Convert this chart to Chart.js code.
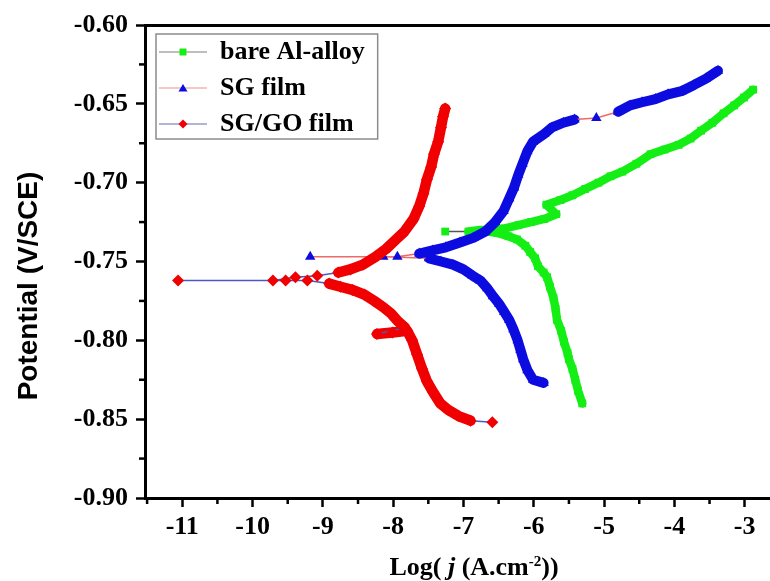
<!DOCTYPE html>
<html>
<head>
<meta charset="utf-8">
<title>Tafel plot</title>
<script src="https://cdn.jsdelivr.net/npm/chart.js@4.4.0/dist/chart.umd.min.js"></script>
<style>
    html, body { margin: 0; padding: 0; background: #fff; }
    #wrap { width: 770px; height: 581px; position: relative; }
</style>
</head>
<body>
<div id="wrap"><canvas id="tafel"></canvas></div>
<script>
(function () {
    "use strict";

    const seriesLabels = ["bare Al-alloy", "SG film", "SG/GO film"];

    // each sweep runs cathodic end -> Ecorr -> anodic end
    const bareLogJ = [-5.31, -5.37, -5.41, -5.45, -5.50, -5.52, -5.57, -5.61, -5.67, -5.69, -5.72, -5.77,
        -5.81, -5.86, -5.94, -5.98, -6.05, -6.12, -6.24, -6.36, -6.51, -6.66, -7.26, -6.93, -6.76,
        -6.59, -6.41, -6.22, -6.04, -5.85, -5.68, -5.82, -5.62, -5.45, -5.27, -5.08, -4.91, -4.74,
        -4.54, -4.34, -4.14, -3.94, -3.77, -3.62, -3.46, -3.30, -3.15, -3.01, -2.88];
    const bareE = [-0.840, -0.832, -0.825, -0.818, -0.812, -0.808, -0.801, -0.794, -0.787, -0.780, -0.773, -0.766,
        -0.760, -0.757, -0.753, -0.748, -0.744, -0.740, -0.736, -0.734, -0.732, -0.731, -0.731, -0.731, -0.730,
        -0.730, -0.729, -0.727, -0.725, -0.723, -0.720, -0.714, -0.711, -0.708, -0.704, -0.700, -0.696, -0.693,
        -0.688, -0.682, -0.679, -0.676, -0.672, -0.667, -0.662, -0.656, -0.651, -0.646, -0.641];

    const sgLogJ = [-5.86, -6.01, -6.09, -6.15, -6.19, -6.23, -6.29, -6.35, -6.42, -6.49, -6.58, -6.66,
        -6.76, -6.87, -7.00, -7.15, -7.32, -7.49, -8.14, -9.18, -7.94, -7.63, -7.44, -7.25, -7.05,
        -6.86, -6.69, -6.55, -6.43, -6.35, -6.28, -6.22, -6.16, -6.09, -6.01, -5.85, -5.74, -5.58,
        -5.42, -5.11, -4.80, -4.63, -4.46, -4.27, -4.09, -3.90, -3.72, -3.55, -3.38];
    const sgE = [-0.827, -0.825, -0.819, -0.812, -0.806, -0.800, -0.793, -0.787, -0.782, -0.777, -0.772, -0.767,
        -0.762, -0.759, -0.755, -0.752, -0.750, -0.748, -0.747, -0.747, -0.747, -0.745, -0.743, -0.741, -0.738,
        -0.735, -0.731, -0.725, -0.718, -0.710, -0.703, -0.695, -0.688, -0.680, -0.674, -0.669, -0.665, -0.662,
        -0.660, -0.659, -0.655, -0.651, -0.649, -0.647, -0.644, -0.642, -0.638, -0.634, -0.629];

    const sgGoLogJ = [-6.59, -6.90, -7.07, -7.22, -7.33, -7.43, -7.52, -7.59, -7.66, -7.73, -7.80, -8.01,
        -8.23, -7.83, -7.93, -8.03, -8.14, -8.27, -8.41, -8.58, -8.75, -8.91, -9.22, -9.53, -11.06,
        -9.71, -9.39, -9.08, -8.78, -8.61, -8.43, -8.25, -8.10, -7.96, -7.84, -7.71, -7.63, -7.57,
        -7.52, -7.46, -7.42, -7.36, -7.32, -7.29, -7.26];
    const sgGoE = [-0.852, -0.851, -0.848, -0.844, -0.840, -0.833, -0.826, -0.818, -0.809, -0.800, -0.794, -0.795,
        -0.796, -0.792, -0.788, -0.783, -0.779, -0.775, -0.771, -0.768, -0.766, -0.764, -0.762, -0.762, -0.762,
        -0.762, -0.760, -0.759, -0.757, -0.755, -0.752, -0.747, -0.742, -0.736, -0.731, -0.723, -0.715, -0.707,
        -0.698, -0.690, -0.682, -0.674, -0.665, -0.658, -0.653];

    const xMin = -11.53, xMax = -2.64;
    const yMin = -0.90, yMax = -0.60;

    const serif = "'Liberation Serif', 'Times New Roman', serif";
    const tickFont = { family: serif, size: 26, weight: "bold" };

    const styles = [
        { color: "#14ee14", thin: "#555555", legendLine: "#a8a8a8", shape: "rect", band: 8.5, radius: 5.5, order: 2 },
        { color: "#0c0ce0", thin: "#ee6a6a", legendLine: "#f2b4b4", shape: "triangle", band: 10, radius: 6, order: 1 },
        { color: "#f00000", thin: "#4a58c8", legendLine: "#949cc4", shape: "rectRot", band: 10.5, radius: 6, order: 0 }
    ];
    const series = [
        { logJ: bareLogJ, e: bareE },
        { logJ: sgLogJ, e: sgE },
        { logJ: sgGoLogJ, e: sgGoE }
    ];

    // long jumps between sparse points get the thin connector, dense runs look like a band of markers
    const isGap = c => Math.hypot(c.p1.x - c.p0.x, c.p1.y - c.p0.y) > 20;

    function makeIcon(st) {
        const c = document.createElement("canvas");
        c.width = 52;
        c.height = 14;
        const g = c.getContext("2d");
        g.strokeStyle = st.legendLine;
        g.lineWidth = 1.5;
        g.beginPath();
        g.moveTo(4, 7);
        g.lineTo(52, 7);
        g.stroke();
        g.fillStyle = st.color;
        g.beginPath();
        if (st.shape === "rect") {
            g.rect(24.5, 3.5, 7, 7);
        } else if (st.shape === "triangle") {
            g.moveTo(28, 3); g.lineTo(32.5, 10.5); g.lineTo(23.5, 10.5); g.closePath();
        } else {
            g.moveTo(28, 2.5); g.lineTo(32.5, 7); g.lineTo(28, 11.5); g.lineTo(23.5, 7); g.closePath();
        }
        g.fill();
        return c;
    }
    const icons = styles.map(makeIcon);

    const datasets = series.map((s, i) => {
        const st = styles[i];
        return {
            label: seriesLabels[i],
            data: s.logJ.map((x, k) => ({ x: x, y: s.e[k] })),
            showLine: true,
            order: st.order,
            borderColor: st.color,
            borderWidth: st.band,
            borderJoinStyle: "round",
            borderCapStyle: "round",
            pointStyle: st.shape,
            pointRadius: st.radius,
            pointBackgroundColor: st.color,
            pointBorderColor: st.color,
            pointBorderWidth: 0,
            segment: {
                borderColor: c => isGap(c) ? st.thin : st.color,
                borderWidth: c => isGap(c) ? 1.5 : st.band
            }
        };
    });

    const axisGrid = { drawOnChartArea: false, tickLength: 9, tickWidth: 2.5, tickColor: "#000" };
    const axisBorder = { color: "#000", width: 3 };

    const decorations = {
        id: "decorations",
        afterDraw(chart) {
            const ctx = chart.ctx;
            const area = chart.chartArea;
            ctx.save();
            ctx.strokeStyle = "#000";
            ctx.lineWidth = 2.5;

            // minor ticks halfway between the labelled ones
            const xs = chart.scales.x, ys = chart.scales.y;
            [[xs, true], [ys, false]].forEach(([sc, horiz]) => {
                const vals = sc.ticks.map(t => t.value);
                const step = vals[1] - vals[0];
                const mids = [vals[0] - step / 2].concat(vals.map(v => v + step / 2));
                mids.forEach(v => {
                    if (v < sc.min - 1e-9 || v > sc.max + 1e-9) return;
                    const p = sc.getPixelForValue(v);
                    ctx.beginPath();
                    if (horiz) { ctx.moveTo(p, area.bottom); ctx.lineTo(p, area.bottom + 6); }
                    else { ctx.moveTo(area.left, p); ctx.lineTo(area.left - 6, p); }
                    ctx.stroke();
                });
            });

            // frame round the legend
            const hb = chart.legend.legendHitBoxes;
            if (hb && hb.length) {
                const L = Math.min(...hb.map(b => b.left));
                const T = Math.min(...hb.map(b => b.top));
                const R = Math.max(...hb.map(b => b.left + b.width));
                const B = Math.max(...hb.map(b => b.top + b.height));
                ctx.strokeStyle = "#8c8c8c";
                ctx.lineWidth = 1.5;
                ctx.strokeRect(L + 1, T - 5, R - L + 12, B - T + 7);
            }

            // y title
            ctx.fillStyle = "#000";
            ctx.save();
            ctx.translate(37, 286);
            ctx.rotate(-Math.PI / 2);
            ctx.font = "bold 28px 'Liberation Sans', Arial, sans-serif";
            ctx.textAlign = "center";
            ctx.textBaseline = "alphabetic";
            ctx.fillText("Potential (V/SCE)", 0, 0);
            ctx.restore();

            // x title with italic j and superscript
            const parts = [
                { t: "Log( ", f: "bold 26px " + serif, dy: 0 },
                { t: "j", f: "italic bold 26px " + serif, dy: 0 },
                { t: " (A.cm", f: "bold 26px " + serif, dy: 0 },
                { t: "-2", f: "bold 15px " + serif, dy: -9 },
                { t: "))", f: "bold 26px " + serif, dy: 0 }
            ];
            let total = 0;
            parts.forEach(p => { ctx.font = p.f; p.w = ctx.measureText(p.t).width; total += p.w; });
            let x = 474 - total / 2;
            ctx.textAlign = "left";
            ctx.textBaseline = "alphabetic";
            parts.forEach(p => { ctx.font = p.f; ctx.fillText(p.t, x, 575 + p.dy); x += p.w; });
            ctx.restore();
        }
    };

    new Chart(document.getElementById("tafel").getContext("2d"), {
        type: "scatter",
        data: { datasets: datasets },
        options: {
            responsive: true,
            maintainAspectRatio: false,
            animation: false,
            layout: { padding: 0, autoPadding: false },
            scales: {
                x: {
                    type: "linear",
                    position: "bottom",
                    min: xMin,
                    max: xMax,
                    afterFit: s => { s.height = 83; },
                    ticks: { stepSize: 1, includeBounds: false, autoSkip: false, font: tickFont, color: "#000", padding: 5,
                        callback: v => String(Math.round(v)) },
                    grid: axisGrid,
                    border: axisBorder
                },
                x2: {
                    type: "linear",
                    position: "top",
                    min: xMin,
                    max: xMax,
                    afterFit: s => { s.height = 25; },
                    ticks: { display: false },
                    grid: { drawOnChartArea: false, drawTicks: false },
                    border: axisBorder
                },
                y: {
                    type: "linear",
                    position: "left",
                    min: yMin,
                    max: yMax,
                    afterFit: s => { s.width = 145; },
                    ticks: { stepSize: 0.05, font: tickFont, color: "#000", padding: 8,
                        callback: v => v.toFixed(2) },
                    grid: axisGrid,
                    border: axisBorder
                }
            },
            plugins: {
                tooltip: { enabled: false },
                legend: {
                    position: "chartArea",
                    align: "start",
                    // empty title only pushes the items down below the top axis
                    title: { display: true, text: "", padding: { top: 19, bottom: 0 }, font: { size: 10, lineHeight: 1 } },
                    labels: {
                        usePointStyle: true,
                        pointStyleWidth: 52,
                        padding: 10,
                        font: tickFont,
                        color: "#000",
                        generateLabels: chart => chart.data.datasets.map((ds, i) => ({
                            text: ds.label,
                            pointStyle: icons[i],
                            datasetIndex: i,
                            hidden: false,
                            fontColor: "#000",
                            lineWidth: 0,
                            strokeStyle: "rgba(0,0,0,0)",
                            fillStyle: "rgba(0,0,0,0)"
                        }))
                    }
                }
            }
        },
        plugins: [decorations]
    });
})();
</script>
</body>
</html>
